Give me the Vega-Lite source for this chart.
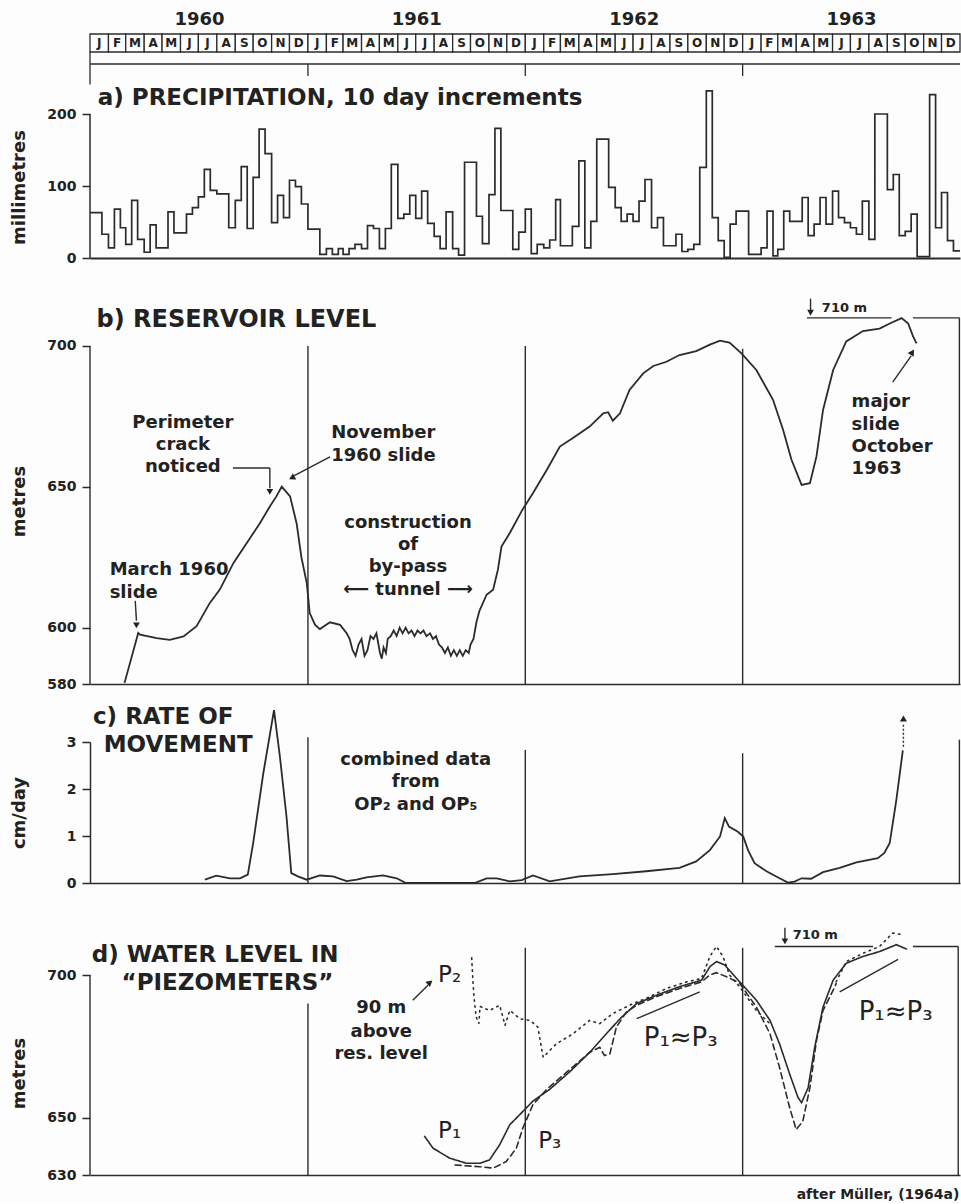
{
"$schema": "https://vega.github.io/schema/vega-lite/v6.json",
"background": "#fdfdfd",
"padding": {"left": 10, "top": 10, "right": 0, "bottom": 0},
"datasets": {
"months": [
{"s":"1960-01-01","e":"1960-02-01","l":"J"},{"s":"1960-02-01","e":"1960-03-01","l":"F"},{"s":"1960-03-01","e":"1960-04-01","l":"M"},{"s":"1960-04-01","e":"1960-05-01","l":"A"},{"s":"1960-05-01","e":"1960-06-01","l":"M"},{"s":"1960-06-01","e":"1960-07-01","l":"J"},{"s":"1960-07-01","e":"1960-08-01","l":"J"},{"s":"1960-08-01","e":"1960-09-01","l":"A"},{"s":"1960-09-01","e":"1960-10-01","l":"S"},{"s":"1960-10-01","e":"1960-11-01","l":"O"},{"s":"1960-11-01","e":"1960-12-01","l":"N"},{"s":"1960-12-01","e":"1961-01-01","l":"D"},
{"s":"1961-01-01","e":"1961-02-01","l":"J"},{"s":"1961-02-01","e":"1961-03-01","l":"F"},{"s":"1961-03-01","e":"1961-04-01","l":"M"},{"s":"1961-04-01","e":"1961-05-01","l":"A"},{"s":"1961-05-01","e":"1961-06-01","l":"M"},{"s":"1961-06-01","e":"1961-07-01","l":"J"},{"s":"1961-07-01","e":"1961-08-01","l":"J"},{"s":"1961-08-01","e":"1961-09-01","l":"A"},{"s":"1961-09-01","e":"1961-10-01","l":"S"},{"s":"1961-10-01","e":"1961-11-01","l":"O"},{"s":"1961-11-01","e":"1961-12-01","l":"N"},{"s":"1961-12-01","e":"1962-01-01","l":"D"},
{"s":"1962-01-01","e":"1962-02-01","l":"J"},{"s":"1962-02-01","e":"1962-03-01","l":"F"},{"s":"1962-03-01","e":"1962-04-01","l":"M"},{"s":"1962-04-01","e":"1962-05-01","l":"A"},{"s":"1962-05-01","e":"1962-06-01","l":"M"},{"s":"1962-06-01","e":"1962-07-01","l":"J"},{"s":"1962-07-01","e":"1962-08-01","l":"J"},{"s":"1962-08-01","e":"1962-09-01","l":"A"},{"s":"1962-09-01","e":"1962-10-01","l":"S"},{"s":"1962-10-01","e":"1962-11-01","l":"O"},{"s":"1962-11-01","e":"1962-12-01","l":"N"},{"s":"1962-12-01","e":"1963-01-01","l":"D"},
{"s":"1963-01-01","e":"1963-02-01","l":"J"},{"s":"1963-02-01","e":"1963-03-01","l":"F"},{"s":"1963-03-01","e":"1963-04-01","l":"M"},{"s":"1963-04-01","e":"1963-05-01","l":"A"},{"s":"1963-05-01","e":"1963-06-01","l":"M"},{"s":"1963-06-01","e":"1963-07-01","l":"J"},{"s":"1963-07-01","e":"1963-08-01","l":"J"},{"s":"1963-08-01","e":"1963-09-01","l":"A"},{"s":"1963-09-01","e":"1963-10-01","l":"S"},{"s":"1963-10-01","e":"1963-11-01","l":"O"},{"s":"1963-11-01","e":"1963-12-01","l":"N"},{"s":"1963-12-01","e":"1964-01-01","l":"D"}
],
"precip": [
{"t":"1960-01-01","v":63},{"t":"1960-01-11","v":63},{"t":"1960-01-21","v":33},
{"t":"1960-02-01","v":14},{"t":"1960-02-11","v":68},{"t":"1960-02-21","v":42},
{"t":"1960-03-01","v":19},{"t":"1960-03-11","v":80},{"t":"1960-03-21","v":26},
{"t":"1960-04-01","v":8},{"t":"1960-04-11","v":46},{"t":"1960-04-21","v":14},
{"t":"1960-05-01","v":14},{"t":"1960-05-11","v":64},{"t":"1960-05-21","v":35},
{"t":"1960-06-01","v":35},{"t":"1960-06-11","v":61},{"t":"1960-06-21","v":70},
{"t":"1960-07-01","v":85},{"t":"1960-07-11","v":123},{"t":"1960-07-21","v":94},
{"t":"1960-08-01","v":89},{"t":"1960-08-11","v":89},{"t":"1960-08-21","v":42},
{"t":"1960-09-01","v":80},{"t":"1960-09-11","v":127},{"t":"1960-09-21","v":41},
{"t":"1960-10-01","v":112},{"t":"1960-10-11","v":179},{"t":"1960-10-21","v":145},
{"t":"1960-11-01","v":49},{"t":"1960-11-11","v":87},{"t":"1960-11-21","v":56},
{"t":"1960-12-01","v":108},{"t":"1960-12-11","v":99},{"t":"1960-12-21","v":75},
{"t":"1961-01-01","v":40},{"t":"1961-01-11","v":40},{"t":"1961-01-21","v":5},
{"t":"1961-02-01","v":13},{"t":"1961-02-11","v":5},{"t":"1961-02-21","v":13},
{"t":"1961-03-01","v":5},{"t":"1961-03-11","v":13},{"t":"1961-03-21","v":19},
{"t":"1961-04-01","v":13},{"t":"1961-04-11","v":45},{"t":"1961-04-21","v":41},
{"t":"1961-05-01","v":13},{"t":"1961-05-11","v":41},{"t":"1961-05-21","v":130},
{"t":"1961-06-01","v":55},{"t":"1961-06-11","v":61},{"t":"1961-06-21","v":87},
{"t":"1961-07-01","v":55},{"t":"1961-07-11","v":93},{"t":"1961-07-21","v":48},
{"t":"1961-08-01","v":30},{"t":"1961-08-11","v":13},{"t":"1961-08-21","v":64},
{"t":"1961-09-01","v":13},{"t":"1961-09-11","v":4},{"t":"1961-09-21","v":133},
{"t":"1961-10-01","v":133},{"t":"1961-10-11","v":58},{"t":"1961-10-21","v":20},
{"t":"1961-11-01","v":88},{"t":"1961-11-11","v":180},{"t":"1961-11-21","v":66},
{"t":"1961-12-01","v":66},{"t":"1961-12-11","v":12},{"t":"1961-12-21","v":36},
{"t":"1962-01-01","v":68},{"t":"1962-01-11","v":6},{"t":"1962-01-21","v":19},
{"t":"1962-02-01","v":14},{"t":"1962-02-11","v":25},{"t":"1962-02-21","v":81},
{"t":"1962-03-01","v":17},{"t":"1962-03-11","v":17},{"t":"1962-03-21","v":44},
{"t":"1962-04-01","v":135},{"t":"1962-04-11","v":14},{"t":"1962-04-21","v":51},
{"t":"1962-05-01","v":165},{"t":"1962-05-11","v":165},{"t":"1962-05-21","v":98},
{"t":"1962-06-01","v":70},{"t":"1962-06-11","v":51},{"t":"1962-06-21","v":61},
{"t":"1962-07-01","v":51},{"t":"1962-07-11","v":79},{"t":"1962-07-21","v":109},
{"t":"1962-08-01","v":42},{"t":"1962-08-11","v":56},{"t":"1962-08-21","v":17},
{"t":"1962-09-01","v":17},{"t":"1962-09-11","v":33},{"t":"1962-09-21","v":9},
{"t":"1962-10-01","v":12},{"t":"1962-10-11","v":19},{"t":"1962-10-21","v":126},
{"t":"1962-11-01","v":232},{"t":"1962-11-11","v":56},{"t":"1962-11-21","v":24},
{"t":"1962-12-01","v":1},{"t":"1962-12-11","v":47},{"t":"1962-12-21","v":65},
{"t":"1963-01-01","v":65},{"t":"1963-01-11","v":5},{"t":"1963-01-21","v":5},
{"t":"1963-02-01","v":14},{"t":"1963-02-11","v":65},{"t":"1963-02-21","v":3},
{"t":"1963-03-01","v":12},{"t":"1963-03-11","v":65},{"t":"1963-03-21","v":51},
{"t":"1963-04-01","v":51},{"t":"1963-04-11","v":84},{"t":"1963-04-21","v":31},
{"t":"1963-05-01","v":47},{"t":"1963-05-11","v":84},{"t":"1963-05-21","v":47},
{"t":"1963-06-01","v":93},{"t":"1963-06-11","v":56},{"t":"1963-06-21","v":49},
{"t":"1963-07-01","v":42},{"t":"1963-07-11","v":33},{"t":"1963-07-21","v":79},
{"t":"1963-08-01","v":26},{"t":"1963-08-11","v":200},{"t":"1963-08-21","v":200},
{"t":"1963-09-01","v":95},{"t":"1963-09-11","v":116},{"t":"1963-09-21","v":31},
{"t":"1963-10-01","v":37},{"t":"1963-10-11","v":61},{"t":"1963-10-21","v":2},
{"t":"1963-11-01","v":2},{"t":"1963-11-11","v":227},{"t":"1963-11-21","v":42},
{"t":"1963-12-01","v":91},{"t":"1963-12-11","v":24},{"t":"1963-12-21","v":10},
{"t":"1964-01-01","v":10}
],
"res": [
{"t":"1960-02-28","v":580.4},{"t":"1960-03-22","v":598.1},{"t":"1960-03-25","v":597.5},{"t":"1960-04-22","v":596.3},{"t":"1960-05-14","v":595.7},{"t":"1960-06-06","v":596.9},{"t":"1960-06-28","v":600.5},{"t":"1960-07-20","v":608.7},{"t":"1960-08-06","v":613.5},{"t":"1960-08-29","v":623},{"t":"1960-09-20","v":630},{"t":"1960-10-12","v":637},{"t":"1960-10-29","v":643},{"t":"1960-11-09","v":646.6},{"t":"1960-11-18","v":650.1},{"t":"1960-12-02","v":646.6},{"t":"1960-12-13","v":637},{"t":"1960-12-21","v":625},{"t":"1960-12-30","v":615.8},
{"t":"1961-01-04","v":605.2},{"t":"1961-01-13","v":601},{"t":"1961-01-21","v":599.5},{"t":"1961-02-07","v":601.9},{"t":"1961-02-24","v":601},{"t":"1961-03-07","v":598},
{"t":"1961-03-12","v":596},{"t":"1961-03-17","v":592},{"t":"1961-03-22","v":590},{"t":"1961-03-27","v":594},{"t":"1961-04-01","v":596},{"t":"1961-04-06","v":590},{"t":"1961-04-11","v":592},{"t":"1961-04-16","v":597},{"t":"1961-04-21","v":596},{"t":"1961-04-26","v":598},{"t":"1961-05-02","v":591},{"t":"1961-05-05","v":589},{"t":"1961-05-08","v":593},{"t":"1961-05-12","v":591},{"t":"1961-05-15","v":596},{"t":"1961-05-20","v":597},{"t":"1961-05-25","v":599},{"t":"1961-05-30","v":597},{"t":"1961-06-04","v":600},{"t":"1961-06-09","v":598},{"t":"1961-06-14","v":600},{"t":"1961-06-19","v":598},{"t":"1961-06-24","v":599},{"t":"1961-06-29","v":597},{"t":"1961-07-04","v":599},{"t":"1961-07-09","v":598},{"t":"1961-07-14","v":599},{"t":"1961-07-19","v":597},{"t":"1961-07-25","v":598},{"t":"1961-07-30","v":596},{"t":"1961-08-04","v":597},{"t":"1961-08-09","v":594},{"t":"1961-08-14","v":593},{"t":"1961-08-19","v":591},{"t":"1961-08-24","v":593},{"t":"1961-08-29","v":590},{"t":"1961-09-03","v":592},{"t":"1961-09-08","v":590},{"t":"1961-09-13","v":592},{"t":"1961-09-18","v":590},{"t":"1961-09-23","v":592},{"t":"1961-09-28","v":591},{"t":"1961-10-01","v":594},{"t":"1961-10-06","v":596},{"t":"1961-10-11","v":602},{"t":"1961-10-16","v":606},
{"t":"1961-10-28","v":611.7},{"t":"1961-11-08","v":613.5},{"t":"1961-11-16","v":620.6},{"t":"1961-11-22","v":628.8},{"t":"1961-12-06","v":633.6},{"t":"1961-12-27","v":641.8},
{"t":"1962-01-14","v":647.8},{"t":"1962-02-06","v":656},{"t":"1962-02-28","v":664.3},{"t":"1962-03-22","v":667.3},{"t":"1962-04-19","v":671.4},{"t":"1962-05-12","v":676.1},{"t":"1962-05-20","v":676.5},{"t":"1962-05-28","v":673.5},{"t":"1962-06-09","v":676.1},{"t":"1962-06-25","v":684.4},{"t":"1962-07-18","v":690.3},{"t":"1962-08-04","v":692.9},{"t":"1962-08-26","v":694.4},{"t":"1962-09-17","v":696.8},{"t":"1962-10-15","v":698.2},{"t":"1962-11-07","v":700.5},{"t":"1962-11-24","v":701.9},{"t":"1962-12-10","v":701.2},{"t":"1962-12-30","v":697.4},
{"t":"1963-01-24","v":691.5},{"t":"1963-02-21","v":680.9},{"t":"1963-03-10","v":670.2},{"t":"1963-03-24","v":659.6},{"t":"1963-04-10","v":650.7},{"t":"1963-04-24","v":651.3},{"t":"1963-05-05","v":660.8},{"t":"1963-05-16","v":677.3},{"t":"1963-06-02","v":691.5},{"t":"1963-06-24","v":701.6},{"t":"1963-07-22","v":705.3},{"t":"1963-08-19","v":706.2},{"t":"1963-09-05","v":708},{"t":"1963-09-25","v":709.9},{"t":"1963-10-06","v":708},{"t":"1963-10-14","v":703.5},{"t":"1963-10-20","v":700.9}
],
"rate": [
{"t":"1960-07-12","v":0.07},{"t":"1960-07-31","v":0.155},{"t":"1960-08-23","v":0.1},{"t":"1960-09-09","v":0.1},{"t":"1960-09-22","v":0.18},{"t":"1960-10-01","v":0.85},{"t":"1960-10-18","v":2.33},{"t":"1960-11-05","v":3.68},{"t":"1960-11-15","v":2.68},{"t":"1960-11-26","v":1.41},{"t":"1960-12-04","v":0.21},{"t":"1960-12-15","v":0.14},{"t":"1960-12-30","v":0.07},
{"t":"1961-01-21","v":0.16},{"t":"1961-02-12","v":0.14},{"t":"1961-03-07","v":0.04},{"t":"1961-03-24","v":0.07},{"t":"1961-04-09","v":0.12},{"t":"1961-05-07","v":0.16},{"t":"1961-05-30","v":0.1},{"t":"1961-06-13","v":0.01},{"t":"1961-08-10","v":0.0},{"t":"1961-10-10","v":0.01},{"t":"1961-10-28","v":0.1},{"t":"1961-11-14","v":0.1},{"t":"1961-12-06","v":0.035},{"t":"1961-12-26","v":0.06},
{"t":"1962-01-14","v":0.16},{"t":"1962-02-11","v":0.035},{"t":"1962-04-02","v":0.14},{"t":"1962-05-28","v":0.19},{"t":"1962-07-23","v":0.25},{"t":"1962-09-17","v":0.32},{"t":"1962-10-15","v":0.46},{"t":"1962-11-07","v":0.7},{"t":"1962-11-24","v":0.99},{"t":"1962-12-02","v":1.38},{"t":"1962-12-09","v":1.2},{"t":"1962-12-24","v":1.09},
{"t":"1963-01-02","v":0.99},{"t":"1963-01-10","v":0.7},{"t":"1963-01-21","v":0.42},{"t":"1963-02-10","v":0.25},{"t":"1963-03-04","v":0.1},{"t":"1963-03-18","v":0.01},{"t":"1963-03-29","v":0.03},{"t":"1963-04-10","v":0.1},{"t":"1963-04-26","v":0.09},{"t":"1963-05-16","v":0.23},{"t":"1963-06-13","v":0.32},{"t":"1963-07-11","v":0.44},{"t":"1963-08-16","v":0.53},{"t":"1963-08-27","v":0.64},{"t":"1963-09-05","v":0.85},{"t":"1963-09-16","v":1.76},{"t":"1963-09-27","v":2.82}
],
"piezo": [
{"s":"P1","g":"P1","t":"1961-07-16","v":643.5},{"s":"P1","g":"P1","t":"1961-07-30","v":639.4},{"s":"P1","g":"P1","t":"1961-08-27","v":635.9},{"s":"P1","g":"P1","t":"1961-09-24","v":634.1},{"s":"P1","g":"P1","t":"1961-10-17","v":634.1},{"s":"P1","g":"P1","t":"1961-11-02","v":635.3},{"s":"P1","g":"P1","t":"1961-11-19","v":640.6},{"s":"P1","g":"P1","t":"1961-12-06","v":647.6},{"s":"P1","g":"P1","t":"1961-12-23","v":651.2},{"s":"P1","g":"P1","t":"1962-01-14","v":655.9},{"s":"P1","g":"P1","t":"1962-02-11","v":660},{"s":"P1","g":"P1","t":"1962-03-17","v":666.2},{"s":"P1","g":"P1","t":"1962-04-19","v":672.9},{"s":"P1","g":"P1","t":"1962-05-17","v":679.4},{"s":"P1","g":"P1","t":"1962-06-09","v":684.7},{"s":"P1","g":"P1","t":"1962-07-07","v":690},{"s":"P1","g":"P1","t":"1962-08-09","v":692.9},{"s":"P1","g":"P1","t":"1962-09-17","v":695.9},{"s":"P1","g":"P1","t":"1962-10-24","v":698.2},{"s":"P1","g":"P1","t":"1962-11-07","v":702.9},{"s":"P1","g":"P1","t":"1962-11-18","v":704.7},{"s":"P1","g":"P1","t":"1962-12-02","v":703.5},{"s":"P1","g":"P1","t":"1962-12-27","v":697.6},{"s":"P1","g":"P1","t":"1963-01-24","v":691.2},{"s":"P1","g":"P1","t":"1963-02-16","v":684.1},{"s":"P1","g":"P1","t":"1963-03-04","v":675.9},{"s":"P1","g":"P1","t":"1963-03-21","v":665.3},{"s":"P1","g":"P1","t":"1963-04-04","v":657.1},{"s":"P1","g":"P1","t":"1963-04-10","v":655.3},{"s":"P1","g":"P1","t":"1963-04-21","v":660.6},{"s":"P1","g":"P1","t":"1963-05-02","v":674.7},{"s":"P1","g":"P1","t":"1963-05-16","v":688.8},{"s":"P1","g":"P1","t":"1963-06-02","v":698.2},{"s":"P1","g":"P1","t":"1963-06-24","v":704.1},{"s":"P1","g":"P1","t":"1963-07-22","v":706.5},{"s":"P1","g":"P1","t":"1963-08-19","v":708.2},{"s":"P1","g":"P1","t":"1963-09-16","v":710.6},{"s":"P1","g":"P1","t":"1963-10-03","v":709.1},
{"s":"P3","g":"P3","t":"1961-09-05","v":633.5},{"s":"P3","g":"P3","t":"1961-10-17","v":632.9},{"s":"P3","g":"P3","t":"1961-11-08","v":632.4},{"s":"P3","g":"P3","t":"1961-11-30","v":634.7},{"s":"P3","g":"P3","t":"1961-12-17","v":639.4},{"s":"P3","g":"P3","t":"1961-12-28","v":646.5},{"s":"P3","g":"P3","t":"1962-01-14","v":654.7},{"s":"P3","g":"P3","t":"1962-02-06","v":660},{"s":"P3","g":"P3","t":"1962-03-11","v":665.9},{"s":"P3","g":"P3","t":"1962-04-19","v":672.9},{"s":"P3","g":"P3","t":"1962-05-06","v":674.7},{"s":"P3","g":"P3","t":"1962-05-14","v":671.8},{"s":"P3","g":"P3","t":"1962-05-23","v":672.4},{"s":"P3","g":"P3","t":"1962-06-03","v":681.8},{"s":"P3","g":"P3","t":"1962-06-20","v":687.1},{"s":"P3","g":"P3","t":"1962-07-07","v":689.4},{"s":"P3","g":"P3","t":"1962-08-09","v":692.4},{"s":"P3","g":"P3","t":"1962-09-17","v":695.3},{"s":"P3","g":"P3","t":"1962-10-24","v":697.6},{"s":"P3","g":"P3","t":"1962-11-07","v":700},{"s":"P3","g":"P3","t":"1962-11-18","v":700.8},{"s":"P3","g":"P3","t":"1962-12-05","v":699.4},{"s":"P3","g":"P3","t":"1962-12-27","v":697.1},{"s":"P3","g":"P3","t":"1963-01-24","v":688.8},{"s":"P3","g":"P3","t":"1963-02-16","v":679.4},{"s":"P3","g":"P3","t":"1963-03-04","v":667.6},{"s":"P3","g":"P3","t":"1963-03-21","v":653.5},{"s":"P3","g":"P3","t":"1963-04-01","v":645.9},{"s":"P3","g":"P3","t":"1963-04-12","v":648.8},{"s":"P3","g":"P3","t":"1963-04-24","v":660.6},{"s":"P3","g":"P3","t":"1963-05-05","v":677.1},{"s":"P3","g":"P3","t":"1963-05-16","v":687.6},{"s":"P3","g":"P3","t":"1963-06-02","v":694.7},{"s":"P3","g":"P3","t":"1963-06-07","v":697},
{"s":"P2","g":"P2a","t":"1961-10-03","v":706},{"s":"P2","g":"P2a","t":"1961-10-05","v":698},{"s":"P2","g":"P2a","t":"1961-10-07","v":692},{"s":"P2","g":"P2a","t":"1961-10-09","v":688},{"s":"P2","g":"P2a","t":"1961-10-11","v":685},{"s":"P2","g":"P2a","t":"1961-10-15","v":683},{"s":"P2","g":"P2a","t":"1961-10-17","v":689},{"s":"P2","g":"P2a","t":"1961-11-02","v":687.6},{"s":"P2","g":"P2a","t":"1961-11-19","v":689.4},{"s":"P2","g":"P2a","t":"1961-11-28","v":682.4},{"s":"P2","g":"P2a","t":"1961-12-06","v":687.6},{"s":"P2","g":"P2a","t":"1961-12-23","v":684.7},{"s":"P2","g":"P2a","t":"1962-01-09","v":684.1},{"s":"P2","g":"P2a","t":"1962-01-22","v":681.8},{"s":"P2","g":"P2a","t":"1962-01-31","v":671.2},{"s":"P2","g":"P2a","t":"1962-02-22","v":675.9},{"s":"P2","g":"P2a","t":"1962-03-22","v":679.4},{"s":"P2","g":"P2a","t":"1962-04-19","v":684.1},{"s":"P2","g":"P2a","t":"1962-05-06","v":683},{"s":"P2","g":"P2a","t":"1962-05-28","v":686.5},{"s":"P2","g":"P2a","t":"1962-07-01","v":690},{"s":"P2","g":"P2a","t":"1962-07-23","v":691.8},{"s":"P2","g":"P2a","t":"1962-08-26","v":695.3},{"s":"P2","g":"P2a","t":"1962-09-29","v":697.6},{"s":"P2","g":"P2a","t":"1962-10-24","v":698.8},{"s":"P2","g":"P2a","t":"1962-11-07","v":706.5},{"s":"P2","g":"P2a","t":"1962-11-18","v":710},{"s":"P2","g":"P2a","t":"1962-11-29","v":706.5},{"s":"P2","g":"P2a","t":"1962-12-10","v":700},{"s":"P2","g":"P2a","t":"1962-12-27","v":695.9},{"s":"P2","g":"P2a","t":"1963-01-24","v":687.6},{"s":"P2","g":"P2a","t":"1963-02-16","v":682.9},
{"s":"P2","g":"P2b","t":"1963-06-07","v":697.6},{"s":"P2","g":"P2b","t":"1963-06-24","v":704.7},{"s":"P2","g":"P2b","t":"1963-07-22","v":707.6},{"s":"P2","g":"P2b","t":"1963-08-19","v":710},{"s":"P2","g":"P2b","t":"1963-09-10","v":714.7},{"s":"P2","g":"P2b","t":"1963-09-27","v":714.1}
]
},
"bounds": "flush",
"spacing": 58,
"vconcat": [
{
"width": 870, "height": 18,
"layer": [
{"data": {"name": "months"},
 "mark": {"type": "rect", "fill": "#fdfdfd", "stroke": "#2b2b2b", "strokeWidth": 1.3},
 "encoding": {
  "x": {"field": "s", "type": "temporal", "scale": {"type": "utc", "domain": [{"year":1960,"month":1,"date":1,"utc":true},{"year":1964,"month":1,"date":1,"utc":true}]},
        "axis": {"orient": "top", "title": null, "values": [{"year":1960,"month":7,"date":2,"utc":true},{"year":1961,"month":7,"date":2,"utc":true},{"year":1962,"month":7,"date":2,"utc":true},{"year":1963,"month":7,"date":2,"utc":true}], "format": "%Y", "labelFontSize": 18, "labelFontWeight": "bold", "ticks": false, "tickSize": 0, "domain": false, "labelPadding": 6}},
  "x2": {"field": "e"},
  "y": {"datum": 1, "type": "quantitative", "scale": {"domain": [0, 1], "nice": false}, "axis": null},
  "y2": {"datum": 0}
 }},
{"data": {"name": "months"},
 "mark": {"type": "text", "fontSize": 12, "fontWeight": "bold", "baseline": "middle"},
 "encoding": {
  "x": {"field": "s", "type": "temporal", "timeUnit": "utcyearmonth", "bandPosition": 0.5},
  "y": {"datum": 0.5, "type": "quantitative"},
  "text": {"field": "l"}
 }},
{"data": {"values": [
  {"t":"1960-01-01","t2":"1964-01-01","v":-0.667,"v2":-0.667},
  {"t":"1960-01-01","t2":"1960-01-01","v":0,"v2":-1.8},
  {"t":"1961-01-01","t2":"1961-01-01","v":-0.667,"v2":-1.333},
  {"t":"1962-01-01","t2":"1962-01-01","v":-0.667,"v2":-1.333},
  {"t":"1963-01-01","t2":"1963-01-01","v":-0.667,"v2":-1.333}
 ]},
 "mark": {"type": "rule", "strokeWidth": 1.3},
 "encoding": {
  "x": {"field": "t", "type": "temporal"},
  "x2": {"field": "t2"},
  "y": {"field": "v", "type": "quantitative"},
  "y2": {"field": "v2"}
 }}
]
},
{
"width": 870, "height": 148,
"encoding": {
 "x": {"field": "t", "type": "temporal", "scale": {"type": "utc", "domain": [{"year":1960,"month":1,"date":1,"utc":true},{"year":1964,"month":1,"date":1,"utc":true}]}, "axis": {"title": null, "labels": false, "ticks": false, "domainWidth": 2}},
 "y": {"field": "v", "type": "quantitative", "scale": {"domain": [0, 205.56], "nice": false}, "axis": {"title": "millimetres", "values": [0, 100, 200], "titleX": -62, "titleY": 77, "domain": false}}
},
"layer": [
 {"data": {"values": [{"t":"1960-01-01","t2":"1960-01-01","v":0,"v2":200}]},
  "mark": {"type": "rule", "strokeWidth": 1.5}, "encoding": {"x2": {"field": "t2"}, "y2": {"field": "v2"}}},
 {"data": {"name": "precip"}, "mark": {"type": "line", "interpolate": "step-after", "strokeWidth": 1.7}},
 {"data": {"values": [{"t":"1960-01-14","v":222,"label":"a) PRECIPITATION, 10 day increments"}]},
  "mark": {"type": "text", "align": "left", "baseline": "middle", "fontSize": 23}, "encoding": {"text": {"field": "label"}}}
]
},
{
"width": 870, "height": 368,
"encoding": {
 "x": {"field": "t", "type": "temporal", "scale": {"type": "utc", "domain": [{"year":1960,"month":1,"date":1,"utc":true},{"year":1964,"month":1,"date":1,"utc":true}]}, "axis": {"title": null, "labels": false, "ticks": false}},
 "y": {"field": "v", "type": "quantitative", "scale": {"domain": [580, 710.65], "nice": false, "zero": false}, "axis": {"title": "metres", "values": [580, 600, 650, 700], "titleX": -62, "titleY": 185, "domain": false}}
},
"layer": [
 {"data": {"values": [
  {"t":"1960-01-01","t2":"1960-01-01","v":580,"v2":700},
  {"t":"1961-01-01","t2":"1961-01-01","v":580,"v2":700},
  {"t":"1962-01-01","t2":"1962-01-01","v":580,"v2":700},
  {"t":"1963-01-01","t2":"1963-01-01","v":580,"v2":699},
  {"t":"1963-04-19","t2":"1963-09-08","v":710,"v2":710},
  {"t":"1963-10-14","t2":"1963-12-31","v":710,"v2":710},
  {"t":"1963-12-31","t2":"1963-12-31","v":580,"v2":710},
  {"t":"1963-04-25","t2":"1963-04-25","v":711.8,"v2":716.8},
  {"t":"1960-08-28","t2":"1960-10-29","v":656.7,"v2":656.7},
  {"t":"1960-10-29","t2":"1960-10-29","v":656.7,"v2":649.5},
  {"t":"1961-02-07","t2":"1960-12-09","v":660.6,"v2":654},
  {"t":"1960-03-17","t2":"1960-03-19","v":609.5,"v2":602.5},
  {"t":"1963-09-10","t2":"1963-10-11","v":687.2,"v2":696.5}
  ]},
  "mark": {"type": "rule"}, "encoding": {"x2": {"field": "t2"}, "y2": {"field": "v2"}}},
 {"data": {"name": "res"}, "mark": {"type": "line", "strokeWidth": 1.8}},
 {"data": {"values": [{"t":"1960-10-29","v":648.2},{"t":"1960-03-19","v":600.8},{"t":"1963-04-25","v":711.8}]},
  "mark": {"type": "point", "shape": "triangle-down", "size": 45, "filled": true}},
 {"data": {"values": [{"t":"1960-12-05","v":653.2}]},
  "mark": {"type": "point", "shape": "triangle-up", "size": 50, "filled": true, "angle": 242}},
 {"data": {"values": [{"t":"1963-10-13","v":697.8}]},
  "mark": {"type": "point", "shape": "triangle-up", "size": 50, "filled": true, "angle": 32}},
 {"data": {"values": [{"t":"1960-01-12","v":709.2,"label":"b) RESERVOIR LEVEL"}]},
  "mark": {"type": "text", "align": "left", "baseline": "middle", "fontSize": 24}, "encoding": {"text": {"field": "label"}}},
 {"data": {"values": [
  {"t":"1960-06-05","v":672.7,"label":"Perimeter"},
  {"t":"1960-06-05","v":664.9,"label":"crack"},
  {"t":"1960-06-05","v":657.1,"label":"noticed"},
  {"t":"1961-06-18","v":637.2,"label":"construction"},
  {"t":"1961-06-18","v":629.4,"label":"of"},
  {"t":"1961-06-18","v":621.6,"label":"by-pass"},
  {"t":"1961-06-18","v":613.5,"label":"⟵ tunnel ⟶"}
  ]},
  "mark": {"type": "text", "align": "center", "baseline": "middle", "fontSize": 18}, "encoding": {"text": {"field": "label"}}},
 {"data": {"values": [
  {"t":"1961-02-09","v":669.1,"label":"November"},
  {"t":"1961-02-09","v":661,"label":"1960 slide"},
  {"t":"1960-02-03","v":620.6,"label":"March 1960"},
  {"t":"1960-02-03","v":612.4,"label":"slide"},
  {"t":"1963-07-03","v":680.1,"label":"major"},
  {"t":"1963-07-03","v":672,"label":"slide"},
  {"t":"1963-07-03","v":664.2,"label":"October"},
  {"t":"1963-07-03","v":656.4,"label":"1963"}
  ]},
  "mark": {"type": "text", "align": "left", "baseline": "middle", "fontSize": 18}, "encoding": {"text": {"field": "label"}}},
 {"data": {"values": [{"t":"1963-05-14","v":713.5,"label":"710 m"}]},
  "mark": {"type": "text", "align": "left", "baseline": "middle", "fontSize": 13}, "encoding": {"text": {"field": "label"}}}
]
},
{
"width": 870, "height": 141,
"encoding": {
 "x": {"field": "t", "type": "temporal", "scale": {"type": "utc", "domain": [{"year":1960,"month":1,"date":1,"utc":true},{"year":1964,"month":1,"date":1,"utc":true}]}, "axis": {"title": null, "labels": false, "ticks": false}},
 "y": {"field": "v", "type": "quantitative", "scale": {"domain": [0, 3], "nice": false}, "axis": {"title": "cm/day", "values": [0, 1, 2, 3], "titleX": -62}}
},
"layer": [
 {"data": {"values": [
  {"t":"1961-01-01","t2":"1961-01-01","v":0,"v2":3.1},
  {"t":"1962-01-01","t2":"1962-01-01","v":0,"v2":2.83},
  {"t":"1963-01-01","t2":"1963-01-01","v":0,"v2":2.76},
  {"t":"1963-12-31","t2":"1963-12-31","v":0,"v2":3.05}
  ]},
  "mark": {"type": "rule"}, "encoding": {"x2": {"field": "t2"}, "y2": {"field": "v2"}}},
 {"data": {"values": [{"t":"1963-09-28","t2":"1963-09-28","v":2.9,"v2":3.38}]},
  "mark": {"type": "rule", "strokeDash": [2, 2]}, "encoding": {"x2": {"field": "t2"}, "y2": {"field": "v2"}}},
 {"data": {"name": "rate"}, "mark": {"type": "line", "strokeWidth": 1.8}},
 {"data": {"values": [{"t":"1963-09-28","v":3.5}]},
  "mark": {"type": "point", "shape": "triangle-up", "size": 50, "filled": true}},
 {"data": {"values": [{"t":"1960-01-06","v":3.53,"label":"c) RATE OF"},{"t":"1960-01-24","v":2.94,"label":"MOVEMENT"}]},
  "mark": {"type": "text", "align": "left", "baseline": "middle", "fontSize": 23}, "encoding": {"text": {"field": "label"}}},
 {"data": {"values": [{"t":"1961-07-01","v":2.62,"label":"combined data"},{"t":"1961-07-01","v":2.15,"label":"from"},{"t":"1961-07-01","v":1.66,"label":"OP₂ and OP₅"}]},
  "mark": {"type": "text", "align": "center", "baseline": "middle", "fontSize": 18}, "encoding": {"text": {"field": "label"}}}
]
},
{
"width": 870, "height": 234,
"encoding": {
 "x": {"field": "t", "type": "temporal", "scale": {"type": "utc", "domain": [{"year":1960,"month":1,"date":1,"utc":true},{"year":1964,"month":1,"date":1,"utc":true}]}, "axis": {"title": null, "labels": false, "ticks": false}},
 "y": {"field": "v", "type": "quantitative", "scale": {"domain": [630, 711.9], "nice": false, "zero": false}, "axis": {"title": "metres", "values": [630, 650, 700], "titleX": -62, "titleY": 132, "domain": false}}
},
"layer": [
 {"data": {"values": [
  {"t":"1960-01-01","t2":"1960-01-01","v":630,"v2":700},
  {"t":"1961-01-01","t2":"1961-01-01","v":630,"v2":690},
  {"t":"1962-01-01","t2":"1962-01-01","v":630,"v2":709.5},
  {"t":"1963-01-01","t2":"1963-01-01","v":630,"v2":709.5},
  {"t":"1963-02-24","t2":"1963-08-08","v":710,"v2":710},
  {"t":"1963-10-14","t2":"1963-12-29","v":710,"v2":710},
  {"t":"1963-12-29","t2":"1963-12-29","v":630,"v2":710},
  {"t":"1963-03-13","t2":"1963-03-13","v":711.8,"v2":716.5},
  {"t":"1962-07-07","t2":"1962-10-21","v":684.7,"v2":694.1},
  {"t":"1963-06-13","t2":"1963-09-19","v":694.1,"v2":705.5},
  {"t":"1961-06-26","t2":"1961-07-22","v":691.2,"v2":696.5}
  ]},
  "mark": {"type": "rule"}, "encoding": {"x2": {"field": "t2"}, "y2": {"field": "v2"}}},
 {"data": {"name": "piezo"}, "mark": {"type": "line", "strokeCap": "round"},
  "encoding": {
   "detail": {"field": "g"},
   "strokeDash": {"field": "s", "type": "nominal", "scale": {"domain": ["P1", "P2", "P3"], "range": [[1, 0], [1.5, 4.5], [6, 4]]}, "legend": null},
   "strokeWidth": {"field": "s", "type": "nominal", "scale": {"domain": ["P1", "P2", "P3"], "range": [1.8, 2.8, 1.6]}, "legend": null}
  }},
 {"data": {"values": [{"t":"1963-03-13","v":711.8}]},
  "mark": {"type": "point", "shape": "triangle-down", "size": 45, "filled": true}},
 {"data": {"values": [{"t":"1961-07-25","v":697.4}]},
  "mark": {"type": "point", "shape": "triangle-up", "size": 50, "filled": true, "angle": 49}},
 {"data": {"values": [{"t":"1960-01-04","v":707,"label":"d) WATER LEVEL IN"},{"t":"1960-02-23","v":697.2,"label":"“PIEZOMETERS”"}]},
  "mark": {"type": "text", "align": "left", "baseline": "middle", "fontSize": 23}, "encoding": {"text": {"field": "label"}}},
 {"data": {"values": [{"t":"1961-05-04","v":688.4,"label":"90 m"},{"t":"1961-05-04","v":679.9,"label":"above"},{"t":"1961-05-04","v":672.2,"label":"res. level"}]},
  "mark": {"type": "text", "align": "center", "baseline": "middle", "fontSize": 18}, "encoding": {"text": {"field": "label"}}},
 {"data": {"values": [{"t":"1961-08-27","v":700,"label":"P₂"},{"t":"1961-08-27","v":645.4,"label":"P₁"},{"t":"1962-02-11","v":641.9,"label":"P₃"}]},
  "mark": {"type": "text", "align": "center", "baseline": "middle", "fontSize": 23, "fontWeight": "normal"}, "encoding": {"text": {"field": "label"}}},
 {"data": {"values": [{"t":"1962-09-19","v":677.8,"label":"P₁≈P₃"},{"t":"1963-09-15","v":687,"label":"P₁≈P₃"}]},
  "mark": {"type": "text", "align": "center", "baseline": "middle", "fontSize": 26, "fontWeight": "normal"}, "encoding": {"text": {"field": "label"}}},
 {"data": {"values": [{"t":"1963-03-26","v":714.1,"label":"710 m"}]},
  "mark": {"type": "text", "align": "left", "baseline": "middle", "fontSize": 13}, "encoding": {"text": {"field": "label"}}},
 {"data": {"values": [{"t":"1963-12-31","v":623,"label":"after Müller, (1964a)"}]},
  "mark": {"type": "text", "align": "right", "baseline": "middle", "fontSize": 14}, "encoding": {"text": {"field": "label"}}}
]
}
],
"config": {
 "view": {"stroke": null},
 "font": "DejaVu Sans",
 "axis": {"grid": false, "domainColor": "#2b2b2b", "tickColor": "#2b2b2b", "labelColor": "#222222", "titleColor": "#222222", "labelFont": "DejaVu Sans", "titleFont": "DejaVu Sans", "labelFontSize": 14, "labelFontWeight": "bold", "titleFontSize": 18, "titleFontWeight": "bold", "domainWidth": 1.5, "tickWidth": 1.5, "tickSize": 8, "labelPadding": 6},
 "text": {"font": "DejaVu Sans", "fontWeight": "bold", "color": "#222222"},
 "line": {"color": "#2b2b2b", "strokeWidth": 1.6},
 "rule": {"color": "#2b2b2b", "strokeWidth": 1.4},
 "point": {"color": "#222222", "opacity": 1}
}
}
